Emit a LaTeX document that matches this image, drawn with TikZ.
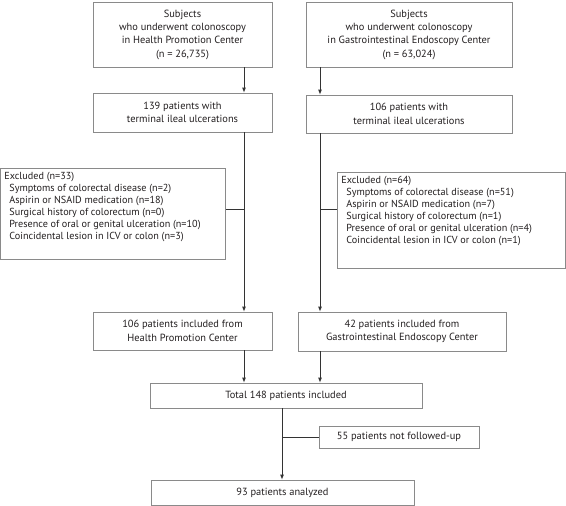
\documentclass[tikz,border=0pt]{standalone}
\usepackage{fontspec}
\setmainfont{PT Sans}
\usetikzlibrary{arrows.meta}
\definecolor{boxgray}{HTML}{8A8A8A}
\definecolor{linegray}{HTML}{333333}
\definecolor{textgray}{HTML}{231F20}
\tikzset{
  box/.style={draw=boxgray, line width=0.7pt, align=center, inner sep=0pt,
    text=textgray, font=\fontsize{10.4}{13.3}\selectfont},
  exbox/.style={box, align=left, anchor=north west, inner sep=4pt,
    font=\fontsize{10.2}{12}\selectfont},
  arr/.style={draw=linegray, line width=0.9pt, -{Latex[length=5pt,width=4pt]}},
  link/.style={draw=linegray, line width=0.9pt}
}
\newcommand{\ind}{\hspace*{5pt}}
\begin{document}
\begin{tikzpicture}[x=1pt,y=-1pt]
\useasboundingbox[fill=white] (0,0) rectangle (566,506);
% top row
\node[box, minimum width=179, minimum height=65] (hpc) at (182.5,34.5) {Subjects\\who underwent colonoscopy\\in Health Promotion Center\\(n = 26,735)};
\node[box, minimum width=206, minimum height=65] (gec) at (409,34.5) {Subjects\\who underwent colonoscopy\\in Gastrointestinal Endoscopy Center\\(n = 63,024)};
\node[box, minimum width=179, minimum height=39] (hpcu) at (182.5,112.5) {139 patients with\\terminal ileal ulcerations};
\node[box, minimum width=206, minimum height=38] (gecu) at (409,114) {106 patients with\\terminal ileal ulcerations};

% excluded
\node[exbox] (hpcx) at (0,168) {\parbox[t][83pt][t]{217pt}{Excluded (n=33)\\
\ind Symptoms of colorectal disease (n=2)\\
\ind Aspirin or NSAID medication (n=18)\\
\ind Surgical history of colorectum (n=0)\\
\ind Presence of oral or genital ulceration (n=10)\\
\ind Coincidental lesion in ICV or colon (n=3)}};
\node[exbox] (gecx) at (337,172) {\parbox[t][88pt][t]{220pt}{Excluded (n=64)\\
\ind Symptoms of colorectal disease (n=51)\\
\ind Aspirin or NSAID medication (n=7)\\
\ind Surgical history of colorectum (n=1)\\
\ind Presence of oral or genital ulceration (n=4)\\
\ind Coincidental lesion in ICV or colon (n=1)}};

% included
\node[box, minimum width=179, minimum height=38] (hpci) at (182.5,331) {106 patients included from\\Health Promotion Center};
\node[box, minimum width=208, minimum height=39] (geci) at (402,331.5) {42 patients included from\\Gastrointestinal Endoscopy Center};
\node[box, minimum width=272, minimum height=25] (total) at (286,395.5) {Total 148 patients included};
\node[box, minimum width=160, minimum height=22] (nfu) at (399,437) {55 patients not followed-up};
\node[box, minimum width=263, minimum height=25] (ana) at (282.5,492.5) {93 patients analyzed};

\coordinate (lx) at (244,0);
\coordinate (rx) at (320,0);
\coordinate (mx) at (282,0);
\coordinate (lb) at (244,209);
\coordinate (rb) at (320,209);
\coordinate (mb) at (282,437);

\path[arr] (hpc.south -| lx) -- (hpcu.north -| lx);
\path[arr] (gec.south -| rx) -- (gecu.north -| rx);
\path[arr] (hpcu.south -| lx) -- (hpci.north -| lx);
\path[arr] (gecu.south -| rx) -- (geci.north -| rx);
\path[link] (lb) -- (lb -| hpcx.east);
\path[link] (rb) -- (rb -| gecx.west);
\path[arr] (hpci.south -| lx) -- (total.north -| lx);
\path[arr] (geci.south -| rx) -- (total.north -| rx);
\path[arr] (total.south -| mx) -- (ana.north -| mx);
\path[link] (mb) -- (nfu.west);
\end{tikzpicture}
\end{document}
